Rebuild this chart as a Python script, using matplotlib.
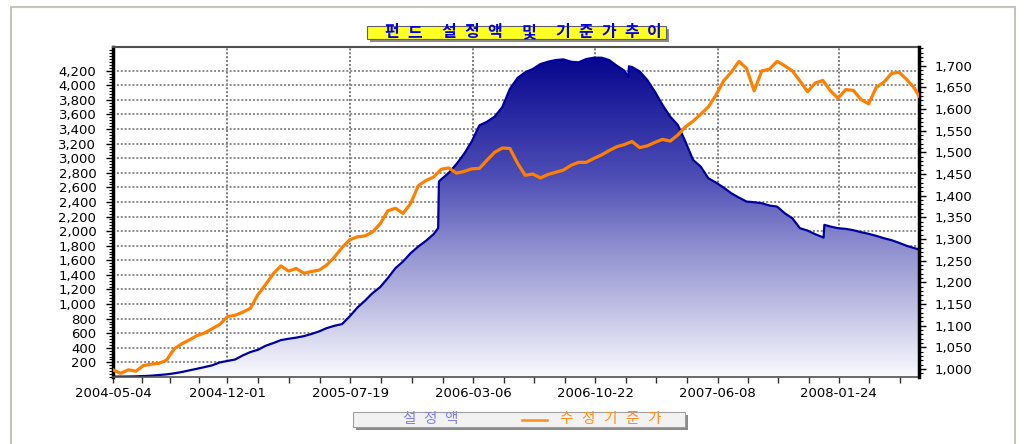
import numpy as np
import matplotlib
matplotlib.use("Agg")
import matplotlib.pyplot as plt
from matplotlib.colors import LinearSegmentedColormap
from matplotlib.patches import Rectangle, Polygon
from matplotlib.lines import Line2D
from matplotlib.ticker import FixedLocator, FuncFormatter, MultipleLocator

# x = trading-day index since 2004-05-04
tick_pos = [0, 150, 311, 472, 632, 792, 951]
tick_labels = ['2004-05-04', '2004-12-01', '2005-07-19', '2006-03-06',
               '2006-10-22', '2007-06-08', '2008-01-24']
left_ticks = list(range(200, 4201, 200))
right_ticks = list(range(1000, 1701, 50))

# 설정액 (fund size, left axis)
nav_x = [0, 10, 20, 30, 40, 50, 60, 70, 80, 90, 100, 110, 120, 130, 140, 150,
         160, 170, 180, 190, 200, 210, 220, 230, 240, 250, 260, 270, 280, 290,
         300, 310, 320, 330, 340, 350, 360, 370, 380, 390, 400, 410, 420, 426,
         427, 430, 440, 450, 460, 470, 480, 490, 500, 510, 520, 530, 540, 550,
         560, 570, 580, 590, 600, 610, 620, 630, 640, 650, 660, 670, 675, 676,
         680, 690, 700, 710, 720, 730, 740, 750, 760, 770, 780, 790, 800, 810,
         820, 830, 840, 850, 860, 870, 880, 890, 900, 910, 920, 931, 932, 940,
         950, 960, 970, 980, 990, 1000, 1010, 1020, 1030, 1040, 1050, 1056]
nav = [5, 6, 7, 9, 13, 18, 27, 36, 50, 68, 91, 113, 136, 160, 200, 220,
       240, 296, 342, 374, 428, 465, 506, 524, 540, 560, 590, 625, 670, 702,
       725, 830, 950, 1045, 1150, 1232, 1355, 1492, 1584, 1698, 1789, 1867, 1958, 2040,
       2680, 2710, 2800, 2920, 3060, 3230, 3450, 3500, 3570, 3700, 3950, 4100, 4177, 4223,
       4291, 4323, 4346, 4355, 4323, 4314, 4360, 4378, 4378, 4346, 4268, 4200, 4110, 4260,
       4250, 4190, 4072, 3912, 3730, 3570, 3456, 3227, 2976, 2885, 2725, 2666, 2597, 2520,
       2460, 2406, 2396, 2383, 2351, 2337, 2246, 2177, 2040, 2008, 1958, 1912, 2086, 2063,
       2040, 2031, 2013, 1986, 1963, 1935, 1903, 1876, 1839, 1798, 1766, 1750]

# 수정기준가 (adjusted NAV, right axis), sampled every 10 trading days
price_x = list(range(0, 1051, 10)) + [1056]
price = [998, 990, 998, 995, 1008, 1011, 1013, 1020, 1046, 1058,
         1067, 1077, 1083, 1093, 1103, 1121, 1124, 1131, 1140, 1172,
         1195, 1220, 1238, 1226, 1232, 1221, 1225, 1228, 1240, 1258,
         1280, 1298, 1305, 1307, 1316, 1335, 1365, 1371, 1359, 1382,
         1423, 1435, 1443, 1461, 1464, 1452, 1456, 1462, 1463, 1482,
         1500, 1510, 1509, 1475, 1447, 1450, 1441, 1449, 1454, 1459,
         1470, 1477, 1477, 1486, 1494, 1504, 1513, 1518, 1525, 1511,
         1515, 1523, 1530, 1526, 1540, 1559, 1572, 1588, 1605, 1632,
         1665, 1685, 1710, 1694, 1642, 1688, 1692, 1710, 1700, 1688,
         1665, 1640, 1660, 1666, 1642, 1625, 1645, 1643, 1622, 1612,
         1650, 1662, 1682, 1685, 1668, 1648, 1630]

W, H = 1031, 444


def fx(x):
    return x / W


def fy(y):
    return 1 - y / H


KR = ['Noto Sans CJK KR', 'DejaVu Sans']

fig = plt.figure(figsize=(W / 100, H / 100), dpi=100)

# outer panel frame
fig.add_artist(Rectangle((fx(11), fy(470)), fx(1015) - fx(11), fy(7) - fy(470),
                         transform=fig.transFigure, fill=False,
                         edgecolor='#c4c4bc', lw=1.5))

ax = fig.add_axes([fx(113), fy(377), fx(919) - fx(113), fy(47.5) - fy(377)])
xmax = 1056
ax.set_xlim(0, xmax)
ax.set_ylim(0, 4518)
ax.set_axisbelow(True)

# dotted horizontal grid at the left-axis ticks (under the filled area)
ax.hlines(left_ticks, 0, xmax, colors='#8a8a8a', linestyles=(0, (1, 1)),
          lw=1.4, zorder=0.6)

# gradient filled area for 설정액
cmap = LinearSegmentedColormap.from_list(
    'navy', [(0, '#00008c'), (0.4, '#4f4fb6'), (0.6, '#8d8dcf'),
             (0.8, '#c2c2e5'), (1, '#fafaff')])
grad = np.linspace(0, 1, 256).reshape(-1, 1)
im = ax.imshow(grad, cmap=cmap, extent=[0, xmax, 0, 4518], aspect='auto',
               origin='upper', zorder=1, interpolation='bilinear')
verts = np.column_stack([np.r_[nav_x, nav_x[::-1]],
                         np.r_[nav, np.zeros(len(nav))]])
poly = Polygon(verts, closed=True, facecolor='none', edgecolor='none')
ax.add_patch(poly)
im.set_clip_path(poly)
ax.plot(nav_x, nav, color='#00009c', lw=1.6, zorder=2)

# x ticks
ax.xaxis.set_major_locator(FixedLocator(tick_pos))
minor = []
for a, b in zip(tick_pos[:-1], tick_pos[1:]):
    minor += list(np.linspace(a, b, 5)[1:-1])
minor += [tick_pos[-1] + 40, tick_pos[-1] + 80]
ax.xaxis.set_minor_locator(FixedLocator(minor))
ax.set_xticklabels(tick_labels)
ax.tick_params(axis='x', which='both', length=4, width=1, direction='out',
               color='#303030', labelsize=9.5, pad=3)

# left y axis
ax.yaxis.set_major_locator(FixedLocator(left_ticks))
ax.yaxis.set_minor_locator(MultipleLocator(40))
ax.yaxis.set_major_formatter(FuncFormatter(lambda v, p: f'{int(v):,}'))

for s in ['top', 'bottom']:
    ax.spines[s].set_color('#505050')
ax.spines['top'].set_linewidth(1.5)
ax.spines['bottom'].set_linewidth(1.2)
ax.spines['left'].set_linewidth(2.5)
ax.spines['right'].set_visible(False)

# right axis: 수정기준가
ax2 = ax.twinx()
ax2.set_ylim(981.5, 1742)
ax2.plot(price_x, price, color='#ff8000', lw=2.3, solid_joinstyle='round', zorder=3)
ax2.yaxis.set_major_locator(FixedLocator(right_ticks))
ax2.yaxis.set_minor_locator(MultipleLocator(10))
ax2.yaxis.set_major_formatter(FuncFormatter(lambda v, p: f'{int(v):,}'))
ax2.tick_params(axis='y', which='major', length=5, width=1, pad=6, labelsize=9.5)
ax2.tick_params(axis='y', which='minor', length=3, width=0.8)
for s in ['top', 'bottom', 'left']:
    ax2.spines[s].set_visible(False)
ax2.spines['right'].set_linewidth(2.5)

ax.tick_params(axis='y', which='major', left=True, length=5, width=1, pad=7, labelsize=9.5)
ax.tick_params(axis='y', which='minor', left=True, length=3, width=0.8)
ax.grid(True, axis='x', which='major', linestyle=(0, (1, 1)), color='#7a7a7a', lw=1.4)


def spaced(x0, y, text, step, space, **kw):
    x = x0
    for ch in text:
        if ch == ' ':
            x += space
            continue
        fig.text(fx(x), fy(y), ch, ha='center', va='center', family=KR, **kw)
        x += step


# title box
fig.add_artist(Rectangle((fx(369.5), fy(42)), fx(669) - fx(369.5), fy(29) - fy(42),
                         transform=fig.transFigure, facecolor='#8c8c8c', edgecolor='none'))
fig.add_artist(Rectangle((fx(366.5), fy(39)), fx(666) - fx(366.5), fy(26) - fy(39),
                         transform=fig.transFigure, facecolor='#ffff22',
                         edgecolor='#606060', lw=0.8))
spaced(391.5, 32.5, '펀드 설정액 및 기준가추이', 23, 11,
       fontsize=11.5, fontweight='bold', color='#0000ee')

# legend box
fig.add_artist(Rectangle((fx(356), fy(430)), fx(688) - fx(356), fy(415) - fy(430),
                         transform=fig.transFigure, facecolor='#8a8a8a', edgecolor='none'))
fig.add_artist(Rectangle((fx(353), fy(427)), fx(685) - fx(353), fy(412) - fy(427),
                         transform=fig.transFigure, facecolor='#f2f2f2',
                         edgecolor='#a0a0a0', lw=0.8))
lax = fig.add_axes([fx(364), fy(422.5), fx(388) - fx(364), fy(415) - fy(422.5)])
lax.imshow(grad, cmap=LinearSegmentedColormap.from_list('lg', ['#000088', '#7070cc']),
           aspect='auto', origin='upper')
lax.axis('off')
spaced(409, 419, '설정액', 21, 10, fontsize=10.5, color='#8080ee')
fig.add_artist(Line2D([fx(522), fx(547)], [fy(419.5), fy(419.5)],
                      transform=fig.transFigure, color='#ff8c1a', lw=1.8))
spaced(566, 419, '수정기준가', 22, 10, fontsize=10.5, color='#ff8c1a')

fig.savefig('out.png', dpi=100)
